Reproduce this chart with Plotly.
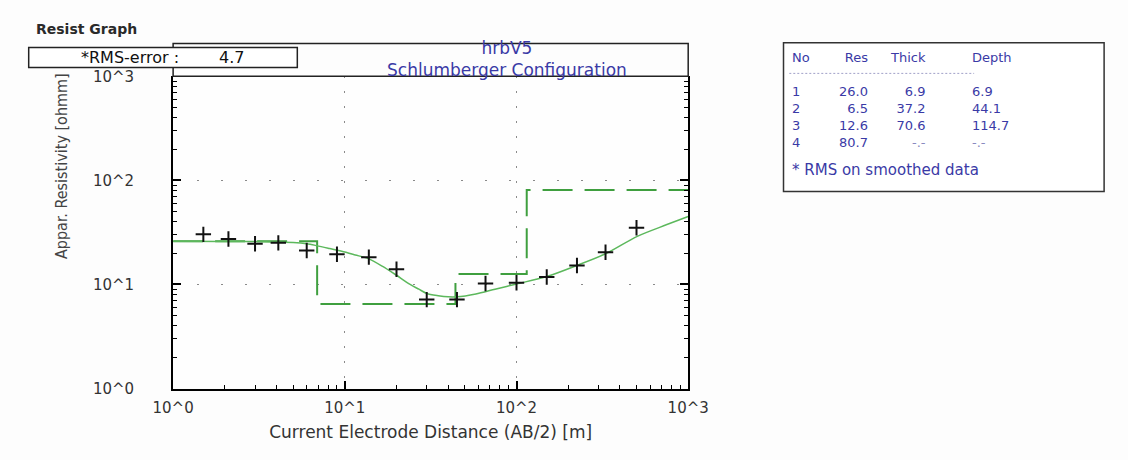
import plotly.graph_objects as go

W, H = 1128, 460

# ---------------- data ----------------
ab2 = [1.5, 2.1, 3.0, 4.1, 6.0, 9.0, 13.8, 20, 30, 45, 66, 100, 150, 225, 330, 500]
rho_obs = [30.3, 27.3, 24.6, 25.1, 21.2, 19.5, 18.3, 14.0, 7.15, 7.15, 10.2, 10.4, 11.8, 15.2, 20.4, 35.1]

curve_x = [1, 2, 3, 4, 5, 6, 6.85, 8, 9.6, 11.5, 13.6, 16.5, 19.5, 24, 27, 30, 35, 40, 45,
           58, 75, 100, 150, 224, 330, 505, 745, 1000]
curve_y = [26.0, 25.9, 25.8, 25.6, 25.3, 24.6, 23.6, 22.3, 20.8, 19.2, 17.8, 15.0, 12.6, 10.0,
           9.0, 8.2, 7.8, 7.6, 7.6, 8.1, 9.0, 10.1, 11.9, 15.2, 19.7, 29.0, 37.4, 45.0]

layer_no = [1, 2, 3, 4]
layer_res = [26.0, 6.5, 12.6, 80.7]
layer_thick = [6.9, 37.2, 70.6, None]
layer_depth = [6.9, 44.1, 114.7, None]

tick_vals = [1, 10, 100, 1000]
tick_text = ["10^0", "10^1", "10^2", "10^3"]
minor_vals = [m * 10 ** e for e in range(3) for m in range(2, 10)]
rms_error = 4.7

# ---------------- helpers (pixel -> paper) ----------------
def px(x):
    return x / W

def py(y):
    return 1 - y / H

FONT = "DejaVu Sans, Verdana, sans-serif"
BLUE = "#3a3aa6"
GREY_BLUE = "#8a8ac0"

# step model line built from the layer table
step_x = [1]
step_y = [layer_res[0]]
for i, d in enumerate(layer_depth[:-1]):
    step_x += [d, d]
    step_y += [layer_res[i], layer_res[i + 1]]
step_x.append(1000)
step_y.append(layer_res[-1])

fig = go.Figure()
fig.add_trace(go.Scatter(x=step_x, y=step_y, mode="lines",
                         line=dict(color="#3f9f3f", width=2, dash="30px,12px"),
                         hoverinfo="skip"))
fig.add_trace(go.Scatter(x=curve_x, y=curve_y, mode="lines",
                         line=dict(color="#5cb85c", width=1.5, shape="spline", smoothing=0.8)))
fig.add_trace(go.Scatter(x=ab2, y=rho_obs, mode="markers",
                         marker=dict(symbol="cross-thin", size=11,
                                     line=dict(width=2, color="#111111"))))

axis_common = dict(
    type="log", range=[0, 3], showline=True, linecolor="black", linewidth=2,
    ticks="inside", ticklen=8, tickwidth=1.5, tickcolor="black",
    tickmode="array", tickvals=tick_vals, ticktext=tick_text,
    tickfont=dict(family=FONT, size=15, color="#333333"),
    minor=dict(ticks="inside", ticklen=4, tickwidth=1, tickcolor="black",
               tickmode="array", tickvals=minor_vals, showgrid=False),
    showgrid=True, gridcolor="#8a8a8a", gridwidth=1, zeroline=False,
)

fig.update_layout(
    width=W, height=H, margin=dict(l=0, r=0, t=0, b=0),
    paper_bgcolor="#fdfdfd", plot_bgcolor="#fefefe", showlegend=False,
    xaxis=dict(axis_common, domain=[px(158), px(693)], mirror=False,
               griddash="2px,13px", ticklabelstandoff=4,
               title=dict(text="Current Electrode Distance (AB/2) [m]",
                          font=dict(family=FONT, size=17, color="#333333"), standoff=11)),
    yaxis=dict(axis_common, domain=[py(395), py(70)], mirror="ticks",
               griddash="2px,22px", ticklabelstandoff=34),
)

shapes = [
    # title box
    dict(type="rect", xref="paper", yref="paper", x0=px(158), x1=px(693), y0=py(70), y1=py(36),
         line=dict(color="#222222", width=1.5), fillcolor="rgba(0,0,0,0)", layer="above"),
    # RMS box
    dict(type="rect", xref="paper", yref="paper", x0=px(8), x1=px(287), y0=py(61), y1=py(40),
         line=dict(color="#222222", width=1.5), fillcolor="#ffffff", layer="above"),
    # table box
    dict(type="rect", xref="paper", yref="paper", x0=px(792), x1=px(1125), y0=py(190), y1=py(35),
         line=dict(color="#333333", width=1.5), fillcolor="#ffffff", layer="above"),
    # table separator
    dict(type="line", xref="paper", yref="paper", x0=px(798), x1=px(990), y0=py(67), y1=py(67),
         line=dict(color="#a0a0c8", width=1, dash="2px,2px"), layer="above"),
]
fig.update_layout(shapes=shapes)

ann = []
def text(s, x, y, xanchor="left", yanchor="middle", size=14, color="#333333", align=None, **kw):
    d = dict(text=s, x=px(x), y=py(y), xref="paper", yref="paper", showarrow=False,
             xanchor=xanchor, yanchor=yanchor,
             font=dict(family=kw.pop("family", FONT), size=size, color=color), **kw)
    if align:
        d["align"] = align
    ann.append(d)

text("<b>Resist Graph</b>", 14, 21, size=14, color="#2a2a2a")
text("*RMS-error :", 60, 50, size=16, color="#111111")
text(f"{rms_error:.1f}", 204, 50, size=16, color="#111111")
text("hrbV5<br>Schlumberger Configuration", 505, 52, xanchor="center", size=17,
     color=BLUE, align="center")
text("Appar. Resistivity [ohmm]", 42, 163, xanchor="center", size=16, color="#444444",
     family="Liberation Sans Narrow, DejaVu Sans Condensed, Arial Narrow, sans-serif",
     textangle=-90)

# table: one multi-line block per column (header, blank line, layer rows)
TS = 13
def cell(v, fmt):
    if v is None:
        return f"<span style='color:{GREY_BLUE}'>-.-</span>"
    return fmt.format(v)

col_no = "No<br> <br>" + "<br>".join(str(n) for n in layer_no)
col_res = "Res<br> <br>" + "<br>".join(cell(v, "{:.1f}") for v in layer_res)
col_thick = "Thick<br> <br>" + "<br>".join(cell(v, "{:.1f}") for v in layer_thick)
col_depth = "Depth<br> <br>" + "<br>".join(cell(v, "{:.1f}") for v in layer_depth)

top = 41
text(col_no, 799, top, yanchor="top", size=TS, color=BLUE, align="left")
text(col_res, 882, top, xanchor="right", yanchor="top", size=TS, color=BLUE, align="right")
text(col_thick, 942, top, xanchor="right", yanchor="top", size=TS, color=BLUE, align="right")
text(col_depth, 986, top, yanchor="top", size=TS, color=BLUE, align="left")
text("* RMS on smoothed data", 799, 168, size=15, color=BLUE)

fig.update_layout(annotations=ann)
fig.write_html("out.html")
